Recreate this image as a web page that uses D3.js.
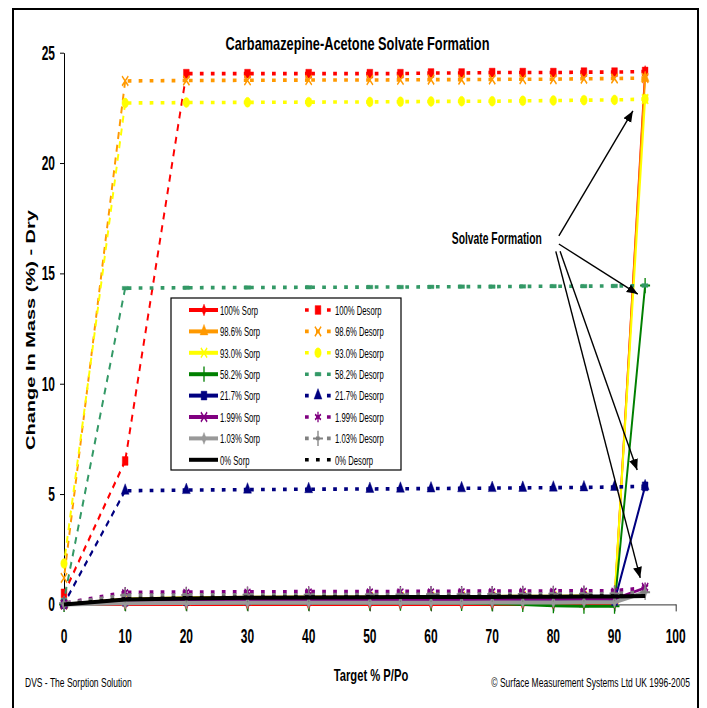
<!DOCTYPE html>
<html><head><meta charset="utf-8">
<script src="https://cdn.jsdelivr.net/npm/d3@7"></script>
<style>
body{margin:0;background:#fff}
svg{display:block}
text{font-family:"Liberation Sans",Arial,Helvetica,sans-serif}
</style>
</head><body>
<script>
// ---------- DATA ----------
const xValues = [0,10,20,30,40,50,55,60,65,70,75,80,85,90,95];
const xTicks = [0,10,20,30,40,50,60,70,80,90,100];
const yTicks = [0,5,10,15,20,25];

const sorp100  = [0,0.0,0.0,0.0,0.0,0.0,0.0,0.0,0.0,0.0,0.0,0.0,0.0,0.02,24.15];
const desorp100= [0.5,6.5,24.05,24.05,24.05,24.05,24.05,24.08,24.08,24.1,24.1,24.1,24.12,24.12,24.15];
const sorp98   = [0,0.1,0.12,0.13,0.14,0.15,0.15,0.16,0.16,0.17,0.17,0.18,0.18,0.2,23.85];
const desorp98 = [1.2,23.72,23.74,23.75,23.76,23.76,23.77,23.78,23.78,23.79,23.8,23.8,23.82,23.83,23.85];
const sorp93   = [0,0.25,0.3,0.32,0.33,0.34,0.35,0.35,0.36,0.36,0.37,0.37,0.38,0.3,22.9];
const desorp93 = [1.85,22.72,22.74,22.75,22.76,22.77,22.78,22.79,22.8,22.8,22.82,22.83,22.85,22.86,22.9];
const sorp58   = [0,0.05,0.06,0.06,0.06,0.06,0.06,0.06,0.05,0.03,0.0,-0.06,-0.08,-0.08,14.45];
const desorp58 = [0.2,14.33,14.35,14.36,14.37,14.38,14.38,14.39,14.4,14.4,14.41,14.42,14.42,14.43,14.45];
const sorp21   = [0,0.12,0.15,0.17,0.18,0.19,0.2,0.2,0.21,0.21,0.22,0.22,0.22,0.15,5.35];
const desorp21 = [0.03,5.15,5.18,5.2,5.22,5.23,5.24,5.25,5.26,5.27,5.28,5.29,5.3,5.32,5.35];
const sorp199  = [0,0.15,0.18,0.2,0.2,0.21,0.21,0.22,0.22,0.22,0.23,0.23,0.23,0.25,0.75];
const desorp199= [0.05,0.55,0.56,0.57,0.58,0.58,0.59,0.59,0.6,0.6,0.61,0.61,0.62,0.62,0.75];
const sorp103  = [0,0.05,0.06,0.07,0.07,0.08,0.08,0.08,0.08,0.09,0.09,0.09,0.1,0.1,0.55];
const desorp103= [0.05,0.42,0.43,0.44,0.44,0.45,0.45,0.46,0.46,0.47,0.47,0.48,0.48,0.49,0.55];
const sorp0    = [0,0.22,0.27,0.3,0.31,0.32,0.33,0.33,0.34,0.34,0.35,0.35,0.36,0.36,0.38];
const desorp0  = [0,0.25,0.3,0.32,0.33,0.34,0.35,0.35,0.36,0.36,0.37,0.37,0.37,0.38,0.38];

const sorpNames   = ["100% Sorp","98.6% Sorp","93.0% Sorp","58.2% Sorp","21.7% Sorp","1.99% Sorp","1.03% Sorp","0% Sorp"];
const desorpNames = ["100% Desorp","98.6% Desorp","93.0% Desorp","58.2% Desorp","21.7% Desorp","1.99% Desorp","1.03% Desorp","0% Desorp"];

const titleText = "Carbamazepine-Acetone Solvate Formation";
const yTitle = "Change In Mass (%) - Dry";
const xTitle = "Target % P/Po";
const footLeft = "DVS - The Sorption Solution";
const footRight = "\u00A9 Surface Measurement Systems Ltd UK 1996-2005";
const annotText = "Solvate Formation";
const annotFrom = [[80.9,16.7],[80.9,16.33],[81.1,16.0],[80.4,16.0]];
const annotTo   = [[93.0,22.36],[93.8,14.06],[93.7,6.09],[94.2,1.2]];

// ---------- STYLE ----------
const W=707, H=708, S=0.65;
const X0=64, X1=675.7, Y0=604.4, Y1=52.7;

const dashSym = {draw(ctx,size){ctx.moveTo(-4.5,-1.8);ctx.lineTo(4.5,-1.8);ctx.lineTo(4.5,1.8);ctx.lineTo(-4.5,1.8);ctx.closePath();}};
const M = {
  diamond:{type:d3.symbolDiamond,size:40,fill:true},
  square:{type:d3.symbolSquare,size:78,fill:true},
  triangle:{type:d3.symbolTriangle,size:64,fill:true},
  circle:{type:d3.symbolCircle,size:78,fill:true},
  times:{type:d3.symbolTimes,size:62,fill:false},
  plus:{type:d3.symbolPlus,size:78,fill:false},
  asterisk:{type:d3.symbolAsterisk,size:78,fill:false},
  dash:{type:dashSym,size:1,fill:true},
  none:null
};

const series = [
  {name:sorpNames[0],v:sorp100,c:"#FF0000",d:false,m:M.diamond,w:3},
  {name:desorpNames[0],v:desorp100,c:"#FF0000",d:true,m:M.square},
  {name:sorpNames[1],v:sorp98,c:"#FF9900",d:false,m:M.triangle,w:3},
  {name:desorpNames[1],v:desorp98,c:"#FF9900",d:true,m:M.times},
  {name:sorpNames[2],v:sorp93,c:"#FFFF00",d:false,m:M.times,w:3},
  {name:desorpNames[2],v:desorp93,c:"#FFFF00",d:true,m:M.circle},
  {name:sorpNames[3],v:sorp58,c:"#008000",d:false,m:M.plus,w:3},
  {name:desorpNames[3],v:desorp58,c:"#339966",d:true,m:M.dash},
  {name:sorpNames[4],v:sorp21,c:"#000080",d:false,m:M.square,w:3},
  {name:desorpNames[4],v:desorp21,c:"#000080",d:true,m:M.triangle},
  {name:sorpNames[5],v:sorp199,c:"#800080",d:false,m:M.times,w:3},
  {name:desorpNames[5],v:desorp199,c:"#800080",d:true,m:M.asterisk},
  {name:sorpNames[6],v:sorp103,c:"#999999",d:false,m:M.diamond,w:4},
  {name:desorpNames[6],v:desorp103,c:"#808080",d:true,m:M.plus},
  {name:sorpNames[7],v:sorp0,c:"#000000",d:false,m:M.none,w:4},
  {name:desorpNames[7],v:desorp0,c:"#000000",d:true,m:M.none}
];

// ---------- SCALES ----------
const xs = d3.scaleLinear().domain([0,100]).range([X0,X1]);
const xi = d3.scaleLinear().domain([0,100]).range([0,(X1-X0)/S]);
const y  = d3.scaleLinear().domain([0,25]).range([Y0,Y1]);

const svg = d3.select("body").append("svg").attr("width",W).attr("height",H);
svg.append("rect").attr("width",W).attr("height",H).attr("fill","#fff");
svg.append("rect").attr("x",13).attr("y",9).attr("width",685).attr("height",740)
  .attr("fill","none").attr("stroke","#000").attr("stroke-width",2);

function txt(parent,x,yy,str,o){
  const g=parent.append("g").attr("transform",`translate(${x},${yy}) scale(${o.sx},1)`+(o.rot?` rotate(${o.rot})`:""));
  g.append("text").attr("text-anchor",o.anchor||"start").attr("dy","0.35em")
   .attr("font-size",o.size).attr("font-weight",o.bold?"bold":"normal").attr("fill","#000").text(str);
  return g;
}

// ---------- AXES ----------
const gy = svg.append("g").attr("transform",`translate(${X0},0)`)
  .call(d3.axisLeft(y).tickValues(yTicks).tickSize(4).tickSizeOuter(0).tickFormat(""));
gy.select(".domain").attr("stroke","#000");
gy.selectAll(".tick line").attr("stroke","#000");
const gx = svg.append("g").attr("transform",`translate(0,${Y0})`)
  .call(d3.axisBottom(xs).tickValues(xTicks).tickSize(7).tickSizeOuter(0).tickFormat(""));
gx.select(".domain").attr("stroke","#333");
gx.selectAll(".tick line").attr("stroke","#333");

yTicks.forEach(t=>txt(svg,55,y(t),String(t),{size:20,bold:true,sx:0.6,anchor:"end"}));
xTicks.forEach(t=>txt(svg,xs(t),636,String(t),{size:20,bold:true,sx:0.6,anchor:"middle"}));

// ---------- SERIES ----------
const gi = svg.append("g").attr("transform",`translate(${X0},0) scale(${S},1)`);
const line = d3.line().x(d=>xi(d[0])).y(d=>y(d[1]));

function drawMarkers(g,pts,s){
  if(!s.m) return;
  const sym=d3.symbol().type(s.m.type).size(s.m.size);
  g.selectAll(null).data(pts).join("path")
    .attr("transform",d=>`translate(${xi(d[0])},${y(d[1])})`)
    .attr("d",sym)
    .attr("fill",s.m.fill?s.c:"none")
    .attr("stroke",s.c).attr("stroke-width",s.m.fill?0.5:2);
}

series.forEach(s=>{
  const pts = xValues.map((xv,i)=>[xv,s.v[i]]);
  const g = gi.append("g");
  if(!s.d){
    g.append("path").attr("d",line(pts)).attr("fill","none")
     .attr("stroke",s.c).attr("stroke-width",s.w).attr("stroke-linejoin","round");
  } else {
    for(let i=pts.length-1;i>0;i--){
      const a=pts[i], b=pts[i-1];
      const steep = Math.abs(y(b[1])-y(a[1])) > Math.abs(xs(b[0])-xs(a[0]));
      g.append("path").attr("d",line([a,b])).attr("fill","none").attr("stroke",s.c)
       .attr("stroke-width",steep?3:3.6)
       .attr("stroke-dasharray",steep?"7,6":"5.7,11.2");
    }
  }
  drawMarkers(g,pts,s);
});

// ---------- LEGEND ----------
const LX=171, LY=298, LW=230, LH=172;
svg.append("rect").attr("x",LX).attr("y",LY).attr("width",LW).attr("height",LH)
  .attr("fill","#fff").attr("stroke","#000").attr("stroke-width",1.2);
for(let r=0;r<8;r++){
  const ry = 310 + r*21.4;
  [series[2*r],series[2*r+1]].forEach((s,k)=>{
    const x1 = k===0?189:305, x2 = k===0?218:331, xm = k===0?204:318;
    const g = svg.append("g").attr("transform",`translate(0,${ry}) scale(${S},1)`);
    const l = g.append("line").attr("x1",x1/S).attr("x2",x2/S).attr("y1",0).attr("y2",0).attr("stroke",s.c);
    if(k===0) l.attr("stroke-width",4);
    else l.attr("stroke-width",3.6).attr("stroke-dasharray","5.7,11.2");
    if(s.m){
      g.append("path").attr("transform",`translate(${xm/S},0)`)
       .attr("d",d3.symbol().type(s.m.type).size(s.m.size))
       .attr("fill",s.m.fill?s.c:"none").attr("stroke",s.c).attr("stroke-width",s.m.fill?0.5:2);
    }
    txt(svg,k===0?220:335,ry,s.name,{size:13.5,sx:0.57});
  });
}

// ---------- ANNOTATION ----------
svg.append("defs").append("marker").attr("id","ah").attr("markerUnits","userSpaceOnUse")
  .attr("markerWidth",12).attr("markerHeight",10).attr("refX",11).attr("refY",4.5).attr("orient","auto")
  .append("path").attr("d","M0,0 L11,4.5 L0,9 Z").attr("fill","#000");
annotFrom.forEach((f,i)=>{
  const t=annotTo[i];
  svg.append("line").attr("x1",xs(f[0])).attr("y1",y(f[1])).attr("x2",xs(t[0])).attr("y2",y(t[1]))
    .attr("stroke","#000").attr("stroke-width",1.4).attr("marker-end","url(#ah)");
});
txt(svg,xs(63.4),y(16.6),annotText,{size:16,bold:true,sx:0.645});

// ---------- TITLES ----------
txt(svg,357.5,44,titleText,{size:18,bold:true,sx:0.71,anchor:"middle"});
txt(svg,31,330,yTitle,{size:20,bold:true,sx:0.64,anchor:"middle",rot:-90});
txt(svg,371,675,xTitle,{size:16.5,bold:true,sx:0.68,anchor:"middle"});
txt(svg,25,683,footLeft,{size:12,sx:0.71});
txt(svg,690,683,footRight,{size:12,sx:0.71,anchor:"end"});
</script>
</body></html>
